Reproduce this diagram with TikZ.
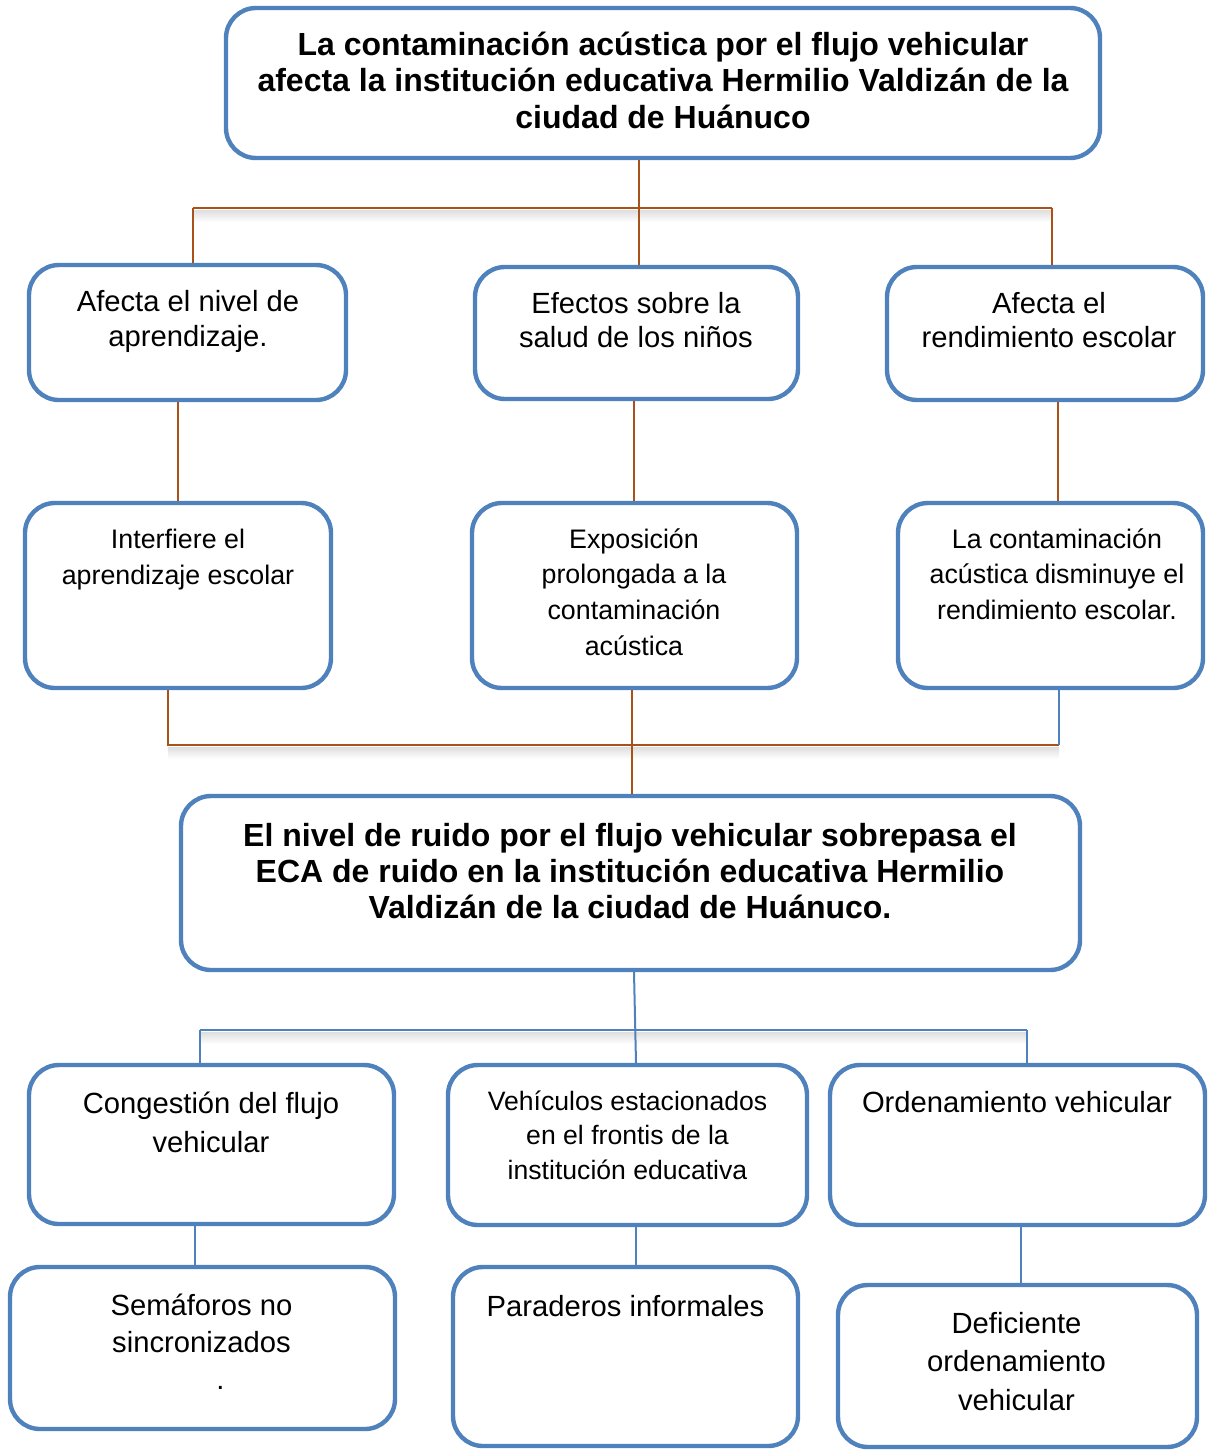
\documentclass[tikz,border=0pt]{standalone}
\usepackage{fontspec}
\setmainfont{Liberation Sans}
\begin{document}
\definecolor{boxblue}{HTML}{4F81BD}
\definecolor{linkbrown}{HTML}{A8521A}
\definecolor{linkblue}{HTML}{4F81BD}
\begin{tikzpicture}[x=0.5pt,y=-0.5pt,
  box/.style={draw=boxblue, line width=2.2pt, rounded corners=15pt, fill=white, inner sep=0pt},
  % text nodes are placed by the baseline of their last line
  txt/.style={align=center, inner sep=0pt, anchor=base, text=black},
  bigbold/.style={font=\fontsize{16}{18.25}\selectfont\bfseries},
  brownlink/.style={draw=linkbrown, line width=1.2pt},
  bluelink/.style={draw=linkblue, line width=1pt},
  lineshadow/.style={top color=black!13, bottom color=white, draw=none}
]
\useasboundingbox (0,0) rectangle (1209,1451);

% soft shadows below the horizontal bars
\fill[lineshadow] (193,210) rectangle (1052,222);
\fill[lineshadow] (168,747) rectangle (1059,759);
\fill[lineshadow] (200,1032) rectangle (1027,1044);

% ---------- boxes ----------
\node[box, minimum width=437pt, minimum height=75pt] (T) at (663,83) {};
\node[box, minimum width=158.5pt, minimum height=67.5pt] (B1) at (187.5,332.5) {};
\node[box, minimum width=161.5pt, minimum height=66pt] (B2) at (636.5,333) {};
\node[box, minimum width=158pt, minimum height=66.5pt] (B3) at (1045,333.5) {};
\node[box, minimum width=153pt, minimum height=92.5pt] (B4) at (178,595.5) {};
\node[box, minimum width=162.5pt, minimum height=92.5pt] (B5) at (634.5,595.5) {};
\node[box, minimum width=152.5pt, minimum height=92.5pt] (B6) at (1050.5,595.5) {};
\node[box, minimum width=449.5pt, minimum height=87pt] (M) at (630.5,883) {};
\node[box, minimum width=182.5pt, minimum height=79.5pt] (B7) at (211.5,1144.5) {};
\node[box, minimum width=179.5pt, minimum height=80pt] (B8) at (627.5,1145) {};
\node[box, minimum width=187.5pt, minimum height=80pt] (B9) at (1017.5,1145) {};
\node[box, minimum width=192.5pt, minimum height=81pt] (B10) at (202.5,1348) {};
\node[box, minimum width=172.5pt, minimum height=89.5pt] (B11) at (625.5,1356.5) {};
\node[box, minimum width=179.5pt, minimum height=81pt] (B12) at (1017.5,1366) {};

% ---------- texts ----------
\node[txt, bigbold] (tT) at (663,128)
  {La contaminación acústica por el flujo vehicular\\afecta la institución educativa Hermilio Valdizán de la\\ciudad de Huánuco};
\node[txt, font=\fontsize{14.6}{17.25}\selectfont] (t1) at (188,346) {Afecta el nivel de\\aprendizaje.};
\node[txt, font=\fontsize{14.6}{17}\selectfont] (t2) at (636,347) {Efectos sobre la\\salud de los niños};
\node[txt, font=\fontsize{14.6}{17}\selectfont] (t3) at (1049,347) {Afecta el\\rendimiento escolar};
\node[txt, font=\fontsize{13.4}{17.75}\selectfont] (t4) at (178,584) {Interfiere el\\aprendizaje escolar};
\node[txt, font=\fontsize{13.4}{17.8}\selectfont] (t5) at (634,655) {Exposición\\prolongada a la\\contaminación\\acústica};
\node[txt, font=\fontsize{13.4}{17.75}\selectfont] (t6) at (1057,619) {La contaminación\\acústica disminuye el\\rendimiento escolar.};
\node[txt, font=\fontsize{16}{18}\selectfont\bfseries] (tM) at (630,918)
  {El nivel de ruido por el flujo vehicular sobrepasa el\\ECA de ruido en la institución educativa Hermilio\\Valdizán de la ciudad de Huánuco.};
\node[txt, font=\fontsize{14.6}{19.5}\selectfont] (t7) at (211,1152) {Congestión del flujo\\vehicular};
\node[txt, font=\fontsize{13.3}{17.25}\selectfont] (t8) at (627.5,1179) {Vehículos estacionados\\en el frontis de la\\institución educativa};
\node[txt, font=\fontsize{14.6}{17}\selectfont] (t9) at (1017,1112) {Ordenamiento vehicular};
\node[txt, font=\fontsize{14.6}{18.5}\selectfont] (t10) at (201.5,1389) {Semáforos no\\sincronizados\\\hspace*{19pt}.};
\node[txt, font=\fontsize{14.6}{17}\selectfont] (t11) at (625.5,1316) {Paraderos informales};
\node[txt, font=\fontsize{14.6}{19.25}\selectfont] (t12) at (1016.5,1410) {Deficiente\\ordenamiento\\vehicular};

% ---------- connectors: effects ----------
\coordinate (j1) at (639,208);
\coordinate (h1l) at (193,208);
\coordinate (h1r) at (1052,208);
\draw[brownlink] (T.south -| j1) -- (j1) -- (j1 |- B2.north);
\draw[brownlink] (h1l) -- (h1r);
\draw[brownlink] (h1l) -- (h1l |- B1.north);
\draw[brownlink] (h1r) -- (h1r |- B3.north);

\coordinate (c1) at (178,0);
\coordinate (c2) at (634,0);
\coordinate (c3) at (1058,0);
\draw[brownlink] (B1.south -| c1) -- (B4.north -| c1);
\draw[brownlink] (B2.south -| c2) -- (B5.north -| c2);
\draw[brownlink] (B3.south -| c3) -- (B6.north -| c3);

\coordinate (h2l) at (168,745);
\coordinate (h2r) at (1059,745);
\coordinate (c4) at (632,0);
\draw[brownlink] (B4.south -| h2l) -- (h2l) -- (h2r);
\draw[bluelink] (B6.south -| h2r) -- (h2r);
\draw[brownlink] (B5.south -| c4) -- (M.north -| c4);

% ---------- connectors: causes ----------
\coordinate (m1) at (634,0);
\coordinate (m2) at (636,0);
\coordinate (h3l) at (200,1030);
\coordinate (h3r) at (1027,1030);
\draw[bluelink] (M.south -| m1) -- (B8.north -| m2);
\draw[bluelink] (h3l) -- (h3r);
\draw[bluelink] (h3l) -- (h3l |- B7.north);
\draw[bluelink] (h3r) -- (h3r |- B9.north);

\coordinate (c5) at (195,0);
\coordinate (c6) at (636,0);
\coordinate (c7) at (1021,0);
\draw[bluelink] (B7.south -| c5) -- (B10.north -| c5);
\draw[bluelink] (B8.south -| c6) -- (B11.north -| c6);
\draw[bluelink] (B9.south -| c7) -- (B12.north -| c7);
\end{tikzpicture}
\end{document}
